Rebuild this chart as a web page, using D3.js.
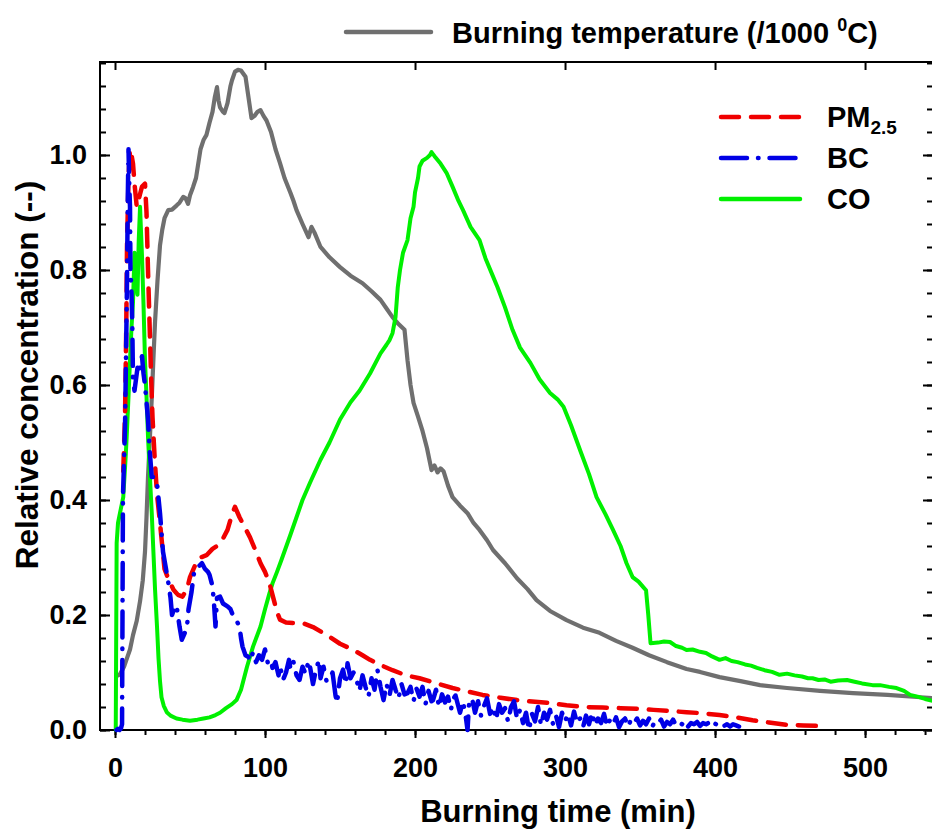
<!DOCTYPE html>
<html>
<head>
<meta charset="utf-8">
<script src="https://cdn.jsdelivr.net/npm/d3@7"></script>
<style>
  html, body { margin: 0; padding: 0; background: #fff; }
  svg { display: block; font-family: "Liberation Sans", Arial, sans-serif; font-weight: bold; }
</style>
</head>
<body>
<div id="chart"></div>
<script>
// ---------- data: [time (min), relative value] ----------
const tempSeries = [
  [2,0.095],[3.3,0.097],[6,0.11],[8,0.125],[10,0.14],[12,0.165],[14.5,0.19],[16.7,0.224],[18.5,0.26],[20,0.31],
  [21,0.37],[22,0.44],[23.3,0.51],[24.5,0.577],[25.6,0.645],[26.7,0.71],[28.3,0.78],[30,0.843],[31.5,0.87],[33,0.89],
  [35.5,0.904],[38,0.905],[41,0.912],[43,0.917],[45.5,0.927],[47,0.925],[48.7,0.915],[50,0.93],[52,0.944],[54,0.96],
  [57,1.01],[59,1.026],[61,1.035],[63,1.056],[65,1.075],[66.5,1.10],[68,1.118],[69,1.095],[70,1.083],[72,1.075],
  [73,1.073],[75,1.09],[77,1.12],[78,1.13],[80,1.145],[82,1.148],[84,1.147],[87,1.136],[89,1.10],[91,1.064],
  [93,1.068],[95,1.075],[97,1.078],[99,1.068],[101,1.06],[104,1.04],[107,1.01],[110,0.986],[113,0.96],[117,0.934],
  [119,0.92],[121,0.904],[125,0.88],[129,0.857],[131,0.875],[133,0.865],[137,0.84],[143,0.822],[150,0.805],[157,0.79],
  [165,0.777],[171,0.763],[177,0.748],[181,0.733],[185,0.718],[189,0.706],[193,0.696],[195,0.643],[197,0.60],[199,0.569],
  [202,0.545],[205,0.52],[208,0.49],[211,0.452],[213,0.46],[215,0.448],[217,0.455],[219,0.45],[222,0.425],[225,0.405],
  [230,0.39],[235,0.377],[239,0.36],[243,0.348],[248,0.33],[252,0.313],[260,0.29],[268,0.264],[275,0.245],[281,0.226],
  [290,0.207],[301,0.191],[312,0.178],[323,0.169],[334,0.155],[345,0.143],[356,0.13],[368,0.118],[381,0.106],[390,0.101],
  [403,0.092],[417,0.085],[430,0.078],[448,0.073],[470,0.068],[492,0.064],[515,0.061],[537,0.057],[546,0.055]
];

const coSeries = [
  [0.5,0],[1.1,0.325],[2,0.36],[3.3,0.377],[5.5,0.405],[7,0.47],[7.8,0.51],[9,0.58],[10,0.643],[11,0.70],
  [12,0.744],[13,0.83],[13.5,0.79],[14,0.78],[15,0.757],[15.8,0.85],[16.7,0.91],[17.3,0.87],[18,0.824],[19,0.74],
  [20,0.643],[21,0.58],[22,0.51],[23.3,0.44],[24.5,0.377],[25.6,0.31],[26.7,0.244],[28,0.18],[29,0.125],[30,0.085],
  [31,0.057],[32.5,0.042],[34.5,0.031],[37,0.025],[41,0.02],[45,0.018],[50,0.016],[55,0.018],[59,0.02],[63,0.022],
  [67,0.026],[70,0.03],[74,0.038],[78,0.045],[81,0.052],[84,0.07],[86,0.09],[88,0.11],[92,0.145],[97,0.18],
  [100,0.21],[103,0.238],[105,0.255],[108,0.275],[111,0.296],[117,0.34],[121,0.37],[125,0.40],[130,0.43],[137,0.47],
  [143,0.50],[150,0.54],[157,0.57],[163,0.59],[170,0.62],[177,0.655],[181,0.67],[183,0.678],[185,0.69],[187,0.718],
  [188.5,0.77],[190,0.80],[192,0.83],[195,0.852],[197,0.89],[199,0.91],[200,0.935],[202,0.96],[203,0.98],[205,0.99],
  [208,0.995],[210,1.0],[211,1.005],[213,0.998],[217,0.985],[221,0.969],[225,0.945],[229,0.92],[232,0.904],[237,0.875],
  [243,0.852],[247,0.82],[251,0.795],[255,0.77],[260,0.735],[265,0.696],[270,0.665],[277,0.638],[283,0.61],[290,0.586],
  [295,0.575],[299,0.562],[304,0.53],[310,0.487],[316,0.445],[321,0.405],[327,0.375],[332,0.348],[337,0.32],[341,0.29],
  [345,0.266],[349,0.258],[352,0.249],[354,0.243],[355.5,0.20],[357,0.151],[362,0.152],[366,0.154],[370,0.153],[374,0.146],
  [378,0.143],[381,0.139],[385,0.14],[390,0.136],[394,0.134],[398,0.128],[403,0.122],[407,0.125],[411,0.12],[415,0.118],
  [420,0.114],[424,0.112],[428,0.108],[433,0.104],[438,0.101],[443,0.096],[448,0.098],[453,0.095],[458,0.093],[462,0.09],
  [465,0.09],[469,0.087],[473,0.088],[477,0.084],[482,0.086],[488,0.087],[493,0.084],[498,0.081],[505,0.078],[510,0.078],
  [516,0.075],[521,0.073],[526,0.068],[530,0.061],[535,0.058],[540,0.054],[546,0.05]
];

const pmSeries = [
  [5.5,0.45],[6.7,0.55],[7.5,0.70],[8,0.84],[9,0.96],[10,1.01],[11,1.0],[12,0.985],[13,0.95],[14.5,0.91],
  [15.5,0.92],[16.5,0.93],[18,0.945],[20,0.95],[21,0.90],[22,0.80],[23,0.71],[24,0.62],[25,0.544],[26.5,0.47],
  [28,0.41],[30,0.36],[31.5,0.32],[33,0.28],[36,0.26],[39,0.244],[42,0.235],[45,0.232],[48,0.245],[50,0.266],
  [54,0.29],[57,0.30],[61,0.304],[65,0.315],[68,0.32],[72,0.333],[75,0.348],[78,0.375],[80,0.388],[83,0.37],
  [87,0.35],[90,0.335],[94,0.31],[97,0.29],[100,0.275],[103,0.255],[106,0.225],[108,0.205],[110,0.192],[114,0.187],
  [119,0.186],[126,0.185],[132,0.179],[138,0.17],[143,0.162],[150,0.15],[159,0.139],[165,0.13],[170,0.122],[177,0.113],
  [185,0.104],[194,0.095],[203,0.09],[212,0.083],[225,0.073],[235,0.067],[245,0.061],[257,0.056],[268,0.052],[280,0.049],
  [290,0.047],[301,0.043],[312,0.04],[325,0.039],[337,0.038],[348,0.037],[359,0.035],[370,0.033],[381,0.031],[392,0.029],
  [403,0.026],[414,0.022],[425,0.017],[436,0.013],[448,0.009],[459,0.008],[470,0.007],[475,0.007]
];

const bcSeries = [
  [1,0],[2,0.002],[3,0],[4,0.003],[4.7,0.01],[5,0.2],[5.3,0.405],[6.7,0.53],[7.5,0.68],[8,0.78],
  [8.5,0.92],[9,1.01],[9.5,0.95],[10,0.91],[10.3,0.8],[11,0.76],[11.5,0.71],[12,0.61],[13,0.59],[14,0.61],
  [15,0.63],[16,0.62],[17,0.64],[18,0.65],[19,0.62],[20,0.60],[21,0.57],[22,0.54],[23,0.49],[24.5,0.44],
  [26,0.44],[28,0.43],[30,0.377],[32,0.31],[34,0.28],[35.5,0.257],[37,0.23],[38,0.2],[40,0.215],[41,0.217],
  [43,0.18],[44.5,0.157],[46.7,0.17],[48,0.18],[49,0.21],[51,0.24],[53,0.28],[56,0.285],[58,0.29],[60,0.28],
  [62,0.275],[63,0.27],[65,0.25],[66,0.22],[67,0.18],[68,0.23],[70,0.232],[72,0.22],[75,0.215],[77,0.21],
  [79,0.197],[81,0.19],[83,0.18],[84,0.16],[85,0.145],[87,0.13],[89,0.127],[90,0.12],[92,0.135],[94,0.118],
  [96,0.13],[98,0.122],[100,0.14],[102,0.115],[104,0.12],[105,0.108],[107,0.118],[109,0.095],[110,0.112],[112,0.087],
  [114,0.1],[116,0.122],[117,0.105],[119,0.118],[121,0.095],[123,0.087],[125,0.11],[127,0.098],[129,0.12],[130,0.11],
  [132,0.08],[134,0.105],[136,0.122],[137,0.09],[139,0.11],[141,0.085],[143,0.087],[145,0.1],[147,0.06],[148,0.047],
  [150,0.09],[152,0.105],[154,0.08],[155,0.116],[157,0.09],[159,0.1],[161,0.087],[163,0.068],[165,0.095],[167,0.075],
  [169,0.058],[171,0.09],[173,0.07],[175,0.104],[177,0.075],[179,0.052],[181,0.08],[183,0.06],[185,0.087],[187,0.07],
  [189,0.055],[191,0.08],[193,0.062],[195,0.064],[197,0.075],[199,0.05],[201,0.072],[203,0.058],[205,0.075],[207,0.045],
  [209,0.068],[211,0.05],[212,0.052],[214,0.07],[216,0.04],[218,0.062],[220,0.048],[222,0.058],[224,0.035],[225,0.052],
  [227,0.06],[229,0.04],[230,0.03],[232,0.05],[234,0.02],[235,0.0],[236,0.045],[238,0.055],[240,0.03],[242,0.05],
  [244,0.025],[246,0.042],[248,0.055],[250,0.028],[252,0.04],[254,0.018],[256,0.045],[258,0.03],[260,0.038],[262,0.015],
  [264,0.04],[266,0.05],[268,0.02],[270,0.035],[272,0.012],[274,0.03],[276,0.0],[278,0.028],[280,0.015],[282,0.04],
  [284,0.008],[286,0.03],[288,0.018],[290,0.035],[292,0.01],[294,0.025],[296,0.005],[298,0.03],[300,0.015],[302,0.028],
  [304,0.008],[306,0.032],[308,0.012],[310,0.02],[312,0.005],[314,0.025],[316,0.01],[318,0.03],[320,0.008],[322,0.02],
  [324,0.012],[326,0.028],[328,0.006],[330,0.018],[332,0.01],[334,0.022],[336,0.005],[338,0.015],[340,0.02],[342,0.006],
  [344,0.018],[346,0.012],[348,0.02],[350,0.008],[352,0.016],[354,0.01],[356,0.02],[358,0.005],[360,0.015],[362,0.012],
  [364,0.018],[366,0.006],[368,0.014],[370,0.01],[372,0.018],[374,0.008],[376,0.013],[378,0.01],[380,0.016],[382,0.006],
  [384,0.012],[386,0.01],[388,0.014],[390,0.007],[392,0.012],[394,0.01],[396,0.013],[398,0.006],[400,0.011],[402,0.008],
  [404,0.012],[406,0.007],[408,0.01],[410,0.006],[412,0.01],[414,0.008],[416,0.006]
];

const xTicks = [0, 100, 200, 300, 400, 500];
const yTicks = [0.0, 0.2, 0.4, 0.6, 0.8, 1.0];

// ---------- layout ----------
const W = 932, H = 830;
const plot = { left: 100, right: 933, top: 62, bottom: 730 };
const FONT = '"Liberation Sans", Arial, sans-serif';

const svg = d3.select('#chart').append('svg')
  .attr('width', W).attr('height', H)
  .attr('viewBox', `0 0 ${W} ${H}`);

const x = d3.scaleLinear().domain([-10, 545.3]).range([plot.left, plot.right]);
const y = d3.scaleLinear().domain([0, 1.1617]).range([plot.bottom, plot.top]);

const minorX = d3.range(0, 545, 20);
const minorY = d3.range(0, 1.17, 0.04).map(v => +v.toFixed(2));

const tickLines = g => g.selectAll('line').attr('stroke', '#000').attr('stroke-width', 2);
const tickText = g => g.selectAll('text').attr('font-size', 27).attr('font-weight', 'bold')
  .attr('font-family', FONT).attr('fill', '#000');

// bottom axis: ticks outward
svg.append('g')
  .attr('transform', `translate(0,${plot.bottom})`)
  .call(d3.axisBottom(x).tickValues(minorX).tickSize(5).tickFormat(''))
  .call(g => g.select('.domain').remove())
  .call(tickLines);
svg.append('g')
  .attr('transform', `translate(0,${plot.bottom})`)
  .call(d3.axisBottom(x).tickValues(xTicks).tickSize(8).tickPadding(20).tickFormat(d3.format('d')))
  .call(g => g.select('.domain').remove())
  .call(tickLines).call(tickText);

// top axis: majors inward
svg.append('g')
  .attr('transform', `translate(0,${plot.top})`)
  .call(d3.axisBottom(x).tickValues(xTicks).tickSize(8).tickFormat(''))
  .call(g => g.select('.domain').remove())
  .call(tickLines);

// left axis: ticks inward
svg.append('g')
  .attr('transform', `translate(${plot.left},0)`)
  .call(d3.axisRight(y).tickValues(minorY).tickSize(6).tickFormat(''))
  .call(g => g.select('.domain').remove())
  .call(tickLines);
svg.append('g')
  .attr('transform', `translate(${plot.left},0)`)
  .call(d3.axisRight(y).tickValues(yTicks).tickSize(10).tickFormat(''))
  .call(g => g.select('.domain').remove())
  .call(tickLines);
svg.append('g')
  .attr('transform', `translate(${plot.left},0)`)
  .call(d3.axisLeft(y).tickValues(yTicks).tickSize(0).tickPadding(13).tickFormat(d3.format('.1f')))
  .call(g => g.select('.domain').remove())
  .call(tickText);

// right axis: ticks inward
svg.append('g')
  .attr('transform', `translate(${plot.right},0)`)
  .call(d3.axisLeft(y).tickValues(minorY).tickSize(6).tickFormat(''))
  .call(g => g.select('.domain').remove())
  .call(tickLines);
svg.append('g')
  .attr('transform', `translate(${plot.right},0)`)
  .call(d3.axisLeft(y).tickValues(yTicks).tickSize(10).tickFormat(''))
  .call(g => g.select('.domain').remove())
  .call(tickLines);

// frame
svg.append('rect')
  .attr('x', plot.left).attr('y', plot.top)
  .attr('width', plot.right - plot.left).attr('height', plot.bottom - plot.top)
  .attr('fill', 'none').attr('stroke', '#000').attr('stroke-width', 2);

// ---------- series ----------
svg.append('clipPath').attr('id', 'clip')
  .append('rect')
  .attr('x', plot.left + 1).attr('y', plot.top + 1)
  .attr('width', plot.right - plot.left - 2).attr('height', plot.bottom - plot.top + 2);

const line = d3.line().x(d => x(d[0])).y(d => y(d[1]));
const series = [
  { data: tempSeries, color: '#6f6f6f', dash: null, width: 4.2 },
  { data: coSeries, color: '#00f000', dash: null, width: 4 },
  { data: pmSeries, color: '#f00000', dash: '18 12', width: 4.5 },
  { data: bcSeries, color: '#0000e6', dash: '26 11 0.5 11', width: 4.5 }
];
const lines = svg.append('g').attr('clip-path', 'url(#clip)');
series.forEach(s => {
  lines.append('path')
    .datum(s.data)
    .attr('d', line)
    .attr('fill', 'none')
    .attr('stroke', s.color)
    .attr('stroke-width', s.width)
    .attr('stroke-linejoin', 'round')
    .attr('stroke-linecap', 'round')
    .attr('stroke-dasharray', s.dash);
});

// ---------- axis titles ----------
svg.append('text')
  .attr('x', 558).attr('y', 822)
  .attr('text-anchor', 'middle')
  .attr('font-size', 31)
  .text('Burning time (min)');

svg.append('text')
  .attr('transform', 'translate(38,375) rotate(-90)')
  .attr('text-anchor', 'middle')
  .attr('font-size', 31.5)
  .text('Relative concentration (--)');

// ---------- legends ----------
svg.append('line')
  .attr('x1', 346).attr('x2', 431).attr('y1', 32).attr('y2', 32)
  .attr('stroke', '#6f6f6f').attr('stroke-width', 4.5).attr('stroke-linecap', 'round');
const tl = svg.append('text').attr('x', 452).attr('y', 43).attr('font-size', 29);
tl.append('tspan').text('Burning temperature (/1000 ');
tl.append('tspan').attr('font-size', 18).attr('dy', -12).text('0');
tl.append('tspan').attr('dy', 12).text('C)');

const legendRows = [
  { label: 'PM', sub: '2.5', color: '#f00000', dash: '18 12', y: 117 },
  { label: 'BC', sub: null, color: '#0000e6', dash: '26 11 0.5 11', y: 158 },
  { label: 'CO', sub: null, color: '#00f000', dash: null, y: 199 }
];
legendRows.forEach(r => {
  svg.append('line')
    .attr('x1', 721).attr('x2', 800).attr('y1', r.y).attr('y2', r.y)
    .attr('stroke', r.color).attr('stroke-width', 4.5)
    .attr('stroke-linecap', 'round')
    .attr('stroke-dasharray', r.dash);
  const t = svg.append('text').attr('x', 827).attr('y', r.y + 10).attr('font-size', 29);
  t.append('tspan').text(r.label);
  if (r.sub) t.append('tspan').attr('font-size', 19).attr('dy', 7).text(r.sub);
});
</script>
</body>
</html>
